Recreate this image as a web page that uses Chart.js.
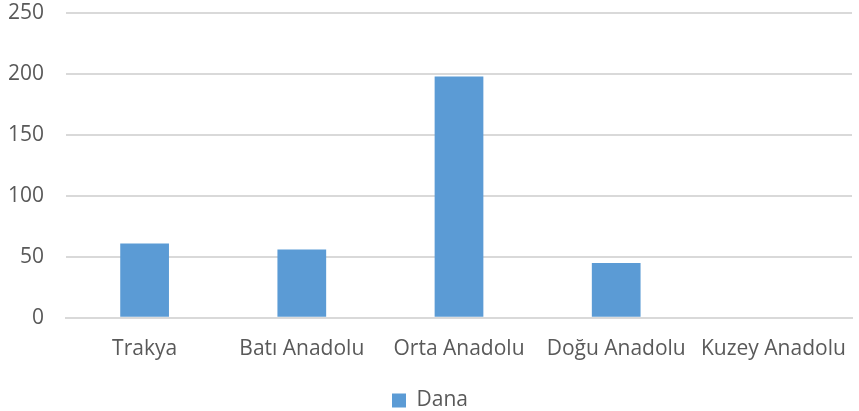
<!DOCTYPE html>
<html lang="tr">
<head>
    <meta charset="UTF-8">
    <title>Dana</title>
    <script src="https://cdn.jsdelivr.net/npm/chart.js"></script>
    <style>
        html, body { margin: 0; padding: 0; background: #fff; }
        #wrap { width: 859px; height: 411px; }
    </style>
</head>
<body>
    <div id="wrap"><canvas id="chart"></canvas></div>
    <script>
        // veriler
        const regions = ['Trakya', 'Batı Anadolu', 'Orta Anadolu', 'Doğu Anadolu', 'Kuzey Anadolu'];
        const dana = [61, 56, 198, 45, 0];
        const yTicks = [0, 50, 100, 150, 200, 250];

        const font = { family: 'Open Sans', size: 21 };

        new Chart(document.getElementById('chart'), {
            type: 'bar',
            data: {
                labels: regions,
                datasets: [{
                    label: 'Dana',
                    data: dana,
                    backgroundColor: '#5b9bd5',
                    barPercentage: 0.31,
                    categoryPercentage: 1
                }]
            },
            options: {
                responsive: true,
                maintainAspectRatio: false,
                animation: false,
                layout: { padding: { top: 13, right: 7, left: 8, bottom: -10 } },
                plugins: {
                    tooltip: { enabled: false },
                    legend: {
                        position: 'bottom',
                        labels: {
                            color: '#595959',
                            font: font,
                            boxWidth: 14,
                            boxHeight: 14,
                            padding: 4
                        }
                    }
                },
                scales: {
                    x: {
                        grid: { display: false },
                        border: { color: '#d9d9d9', width: 2 },
                        ticks: {
                            color: '#595959',
                            font: font,
                            maxRotation: 0,
                            autoSkip: false,
                            padding: 11
                        },
                        afterFit: axis => { axis.height += 13; }
                    },
                    y: {
                        min: 0,
                        max: 250,
                        afterBuildTicks: axis => { axis.ticks = yTicks.map(v => ({ value: v })); },
                        afterFit: axis => {
                            axis.width = 58;
                            axis.paddingTop = 0;
                            axis.paddingBottom = 0;
                        },
                        grid: { color: '#d9d9d9', lineWidth: 2, drawTicks: false },
                        border: { display: false },
                        ticks: {
                            color: '#595959',
                            font: font,
                            padding: 22
                        }
                    }
                }
            }
        });
    </script>
</body>
</html>
